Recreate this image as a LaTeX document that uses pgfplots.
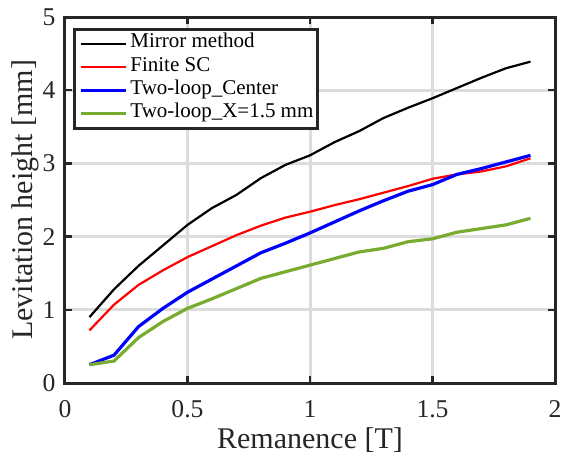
\documentclass[border=0pt]{standalone}
\usepackage{fontspec}
\setmainfont{Liberation Serif}
\usepackage{pgfplots}
\pgfplotsset{compat=1.18}
\definecolor{mgreen}{rgb}{0.466,0.674,0.188}
\definecolor{gridgray}{RGB}{220,220,220}
\definecolor{framegray}{RGB}{38,38,38}

\begin{document}
\begin{tikzpicture}
\begin{axis}[
    scale only axis,
    width=245pt, height=183pt,
    xmin=0, xmax=2, ymin=0, ymax=5,
    xtick={0,0.5,1,1.5,2}, ytick={0,1,2,3,4,5},
    xticklabels={0,0.5,1,1.5,2},
    /pgf/number format/assume math mode=true,
    tick label style={font=\fontsize{12.8}{14}\selectfont, text=framegray},
    label style={font=\fontsize{15}{17}\selectfont, text=framegray},
    xlabel={Remanence [T]},
    ylabel={Levitation height [mm]},
    xlabel style={at={(axis description cs:0.5,-0.1776)}, anchor=base},
    ylabel style={at={(axis description cs:-0.0653,0.5)}, anchor=base},
    xticklabel style={anchor=base, yshift=-17pt},
    yticklabel style={xshift=-1.2pt},
    grid=major,
    major grid style={gridgray, line width=1.5pt},
    axis line style={framegray, line width=1.5pt},
    tick style={framegray, line width=1.2pt},
    tick align=inside,
    major tick length=3.5pt,
    legend style={at={(axis description cs:0.0173,0.970)}, anchor=north west,
        draw=framegray, line width=1.5pt, fill=white,
        font=\fontsize{10.5}{12}\selectfont,
        inner xsep=2.2pt, inner ysep=1.3pt,
        nodes={inner sep=0pt, text height=7.9pt, text depth=3.77pt},
        row sep=0pt, column sep=1.4pt},
    legend cell align=left,
    legend image code/.code={\draw[#1] (0cm,0cm) -- (22.5pt,0cm);},
]
\addplot[black, line width=1.1pt] coordinates {
(0.1,0.90) (0.2,1.28) (0.3,1.60) (0.4,1.88) (0.5,2.16) (0.6,2.39) (0.7,2.57)
(0.8,2.80) (0.9,2.98) (1.0,3.11) (1.1,3.29) (1.2,3.44) (1.3,3.62) (1.4,3.76)
(1.5,3.89) (1.6,4.03) (1.7,4.17) (1.8,4.30) (1.9,4.39)};
\addlegendentry{Mirror method}
\addplot[red, line width=1.1pt] coordinates {
(0.1,0.72) (0.2,1.07) (0.3,1.34) (0.4,1.54) (0.5,1.72) (0.6,1.87) (0.7,2.02)
(0.8,2.15) (0.9,2.26) (1.0,2.34) (1.1,2.43) (1.2,2.51) (1.3,2.60) (1.4,2.69)
(1.5,2.79) (1.6,2.85) (1.7,2.89) (1.8,2.96) (1.9,3.07)};
\addlegendentry{Finite SC}
\addplot[blue, line width=1.6pt] coordinates {
(0.1,0.25) (0.2,0.38) (0.3,0.77) (0.4,1.02) (0.5,1.24) (0.6,1.42) (0.7,1.60)
(0.8,1.78) (0.9,1.91) (1.0,2.05) (1.1,2.20) (1.2,2.35) (1.3,2.49) (1.4,2.62)
(1.5,2.71) (1.6,2.85) (1.7,2.93) (1.8,3.02) (1.9,3.11)};
\addlegendentry{Two-loop\_Center}
\addplot[mgreen, line width=1.6pt] coordinates {
(0.1,0.25) (0.2,0.30) (0.3,0.62) (0.4,0.84) (0.5,1.02) (0.6,1.15) (0.7,1.29)
(0.8,1.43) (0.9,1.52) (1.0,1.61) (1.1,1.70) (1.2,1.79) (1.3,1.84) (1.4,1.93)
(1.5,1.97) (1.6,2.06) (1.7,2.11) (1.8,2.16) (1.9,2.25)};
\addlegendentry{Two-loop\_X=1.5 mm}
\end{axis}
\pgfresetboundingbox
\path[use as bounding box] ([xshift=-32.5pt,yshift=-36.5pt]current axis.south west)
    rectangle ([xshift=3.5pt,yshift=8.5pt]current axis.north east);
\end{tikzpicture}
\end{document}
